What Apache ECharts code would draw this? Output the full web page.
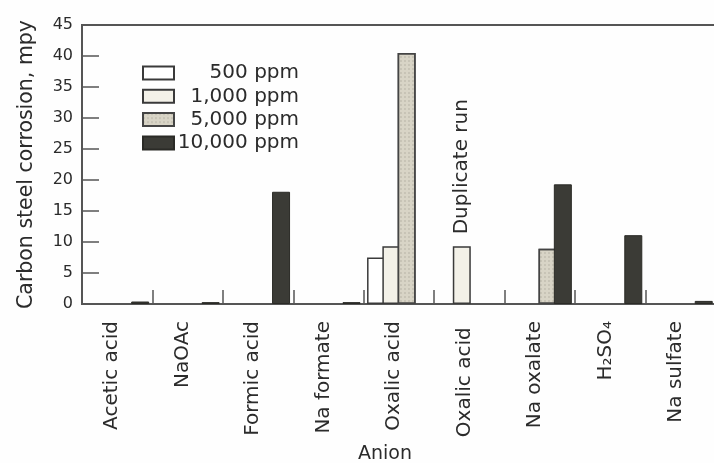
<!DOCTYPE html>
<html>
<head>
<meta charset="utf-8">
<script src="https://cdn.jsdelivr.net/npm/echarts@6/dist/echarts.min.js"></script>
<style>html,body{margin:0;padding:0;background:#fefefe;}#chart{width:714px;height:463px;}</style>
</head>
<body>
<div id="chart"></div>
<script>
// Categories (anions)
var categories = ['Acetic acid', 'NaOAc', 'Formic acid', 'Na formate', 'Oxalic acid', 'Oxalic acid ', 'Na oxalate', 'H\u2082SO\u2084', 'Na sulfate'];
// Series names
var seriesNames = ['500 ppm', '1,000 ppm', '5,000 ppm', '10,000 ppm'];
// Corrosion values, mpy (null = no bar)
var ppm500   = [null, null, null, null, 7.5, null, null, null, null];
var ppm1000  = [null, null, null, null, 9.3, 9.3, null, null, null];
var ppm5000  = [null, null, null, null, 40.5, null, 8.9, null, null];
var ppm10000 = [0.4, 0.3, 18.1, 0.3, null, null, 19.3, 11.1, 0.5];
// Y tick range
var yMin = 0, yMax = 45, yStep = 5;
// annotation
var dupIndex = 5, dupText = 'Duplicate run';

var font = 'DejaVu Sans';
var ink = '#2b2b2b';
var axisCol = '#555';

function withLabel(arr, idx, text) {
  return arr.map(function (v, i) {
    if (i === idx) {
      return { value: v, label: { show: true, formatter: text } };
    }
    return v;
  });
}

var chart = echarts.init(document.getElementById('chart'), null, { renderer: 'canvas' });
var option = {
  backgroundColor: '#fefefe',
  animation: false,
  textStyle: { fontFamily: font, color: ink },
  grid: [
    { left: 82, top: 25, width: 634, bottom: 159, show: true, borderColor: axisCol, borderWidth: 2,
      backgroundColor: 'transparent', containLabel: false, outerBoundsMode: 'none' },
    { left: 77, top: 25, width: 634, bottom: 159, show: false, containLabel: false, outerBoundsMode: 'none' }
  ],
  legend: {
    orient: 'vertical', left: 137, top: 58, icon: 'rect',
    itemWidth: 31, itemHeight: 13, itemGap: 3.3,
    formatter: function (n) { return '{t|' + n + '}'; },
    textStyle: { fontFamily: font, fontSize: 20, color: ink, lineHeight: 20,
      rich: { t: { width: 120, align: 'right', fontFamily: font, fontSize: 20, color: ink, lineHeight: 20 } } },
    data: seriesNames
  },
  xAxis: [
    {
      type: 'category', data: categories, gridIndex: 0,
      axisLine: { lineStyle: { color: axisCol, width: 2 } },
      axisTick: { show: true, inside: true, length: 14, interval: 0, lineStyle: { color: axisCol, width: 1.5 } },
      axisLabel: { show: false },
      name: 'Anion', nameLocation: 'middle', nameGap: 141,
      nameTextStyle: { fontSize: 19, color: ink, fontFamily: font, padding: [0, 28, 0, 0] }
    },
    {
      type: 'category', data: categories, gridIndex: 1,
      axisLine: { show: false }, axisTick: { show: false },
      axisLabel: { rotate: 90, fontSize: 20, color: ink, margin: 17, fontFamily: font, interval: 0 }
    }
  ],
  yAxis: [
    {
      type: 'value', min: yMin, max: yMax, interval: yStep, gridIndex: 0,
      axisLine: { show: true, lineStyle: { color: axisCol, width: 2 } },
      axisTick: { show: true, inside: true, length: 17, lineStyle: { color: axisCol, width: 1.5 } },
      axisLabel: { fontSize: 16, color: ink, margin: 9, fontFamily: font },
      splitLine: { show: false },
      name: 'Carbon steel corrosion, mpy', nameLocation: 'middle', nameGap: 45,
      nameTextStyle: { fontSize: 20.5, color: ink, fontFamily: font }
    },
    {
      type: 'value', min: yMin, max: yMax, interval: yStep, gridIndex: 1, show: false
    }
  ],
  series: [
    { name: seriesNames[0], type: 'bar', data: ppm500, barWidth: 18, barGap: '-15%',
      itemStyle: { color: '#ffffff', borderColor: '#3a3a3a', borderWidth: 1.5 } },
    { name: seriesNames[1], type: 'bar', data: withLabel(ppm1000, dupIndex, dupText), barWidth: 18, barGap: '-15%',
      itemStyle: { color: '#f3f1e8', borderColor: '#3a3a3a', borderWidth: 1.5 },
      label: { show: false, position: 'top', rotate: 90, align: 'left', verticalAlign: 'middle', distance: 12,
        fontSize: 20, color: ink, fontFamily: font } },
    { name: seriesNames[2], type: 'bar', data: ppm5000, barWidth: 18, barGap: '-15%',
      itemStyle: { color: '#d8d4c6', borderColor: '#444', borderWidth: 1.5,
        decal: { symbol: 'rect', symbolSize: 0.6, color: 'rgba(60,60,50,0.35)', dashArrayX: [2, 2], dashArrayY: [2, 2], rotation: 0 } } },
    { name: seriesNames[3], type: 'bar', data: ppm10000, barWidth: 18, barGap: '-15%',
      itemStyle: { color: '#3b3b36', borderColor: '#2a2a26', borderWidth: 1 } }
  ]
};
chart.setOption(option);
</script>
</body>
</html>
